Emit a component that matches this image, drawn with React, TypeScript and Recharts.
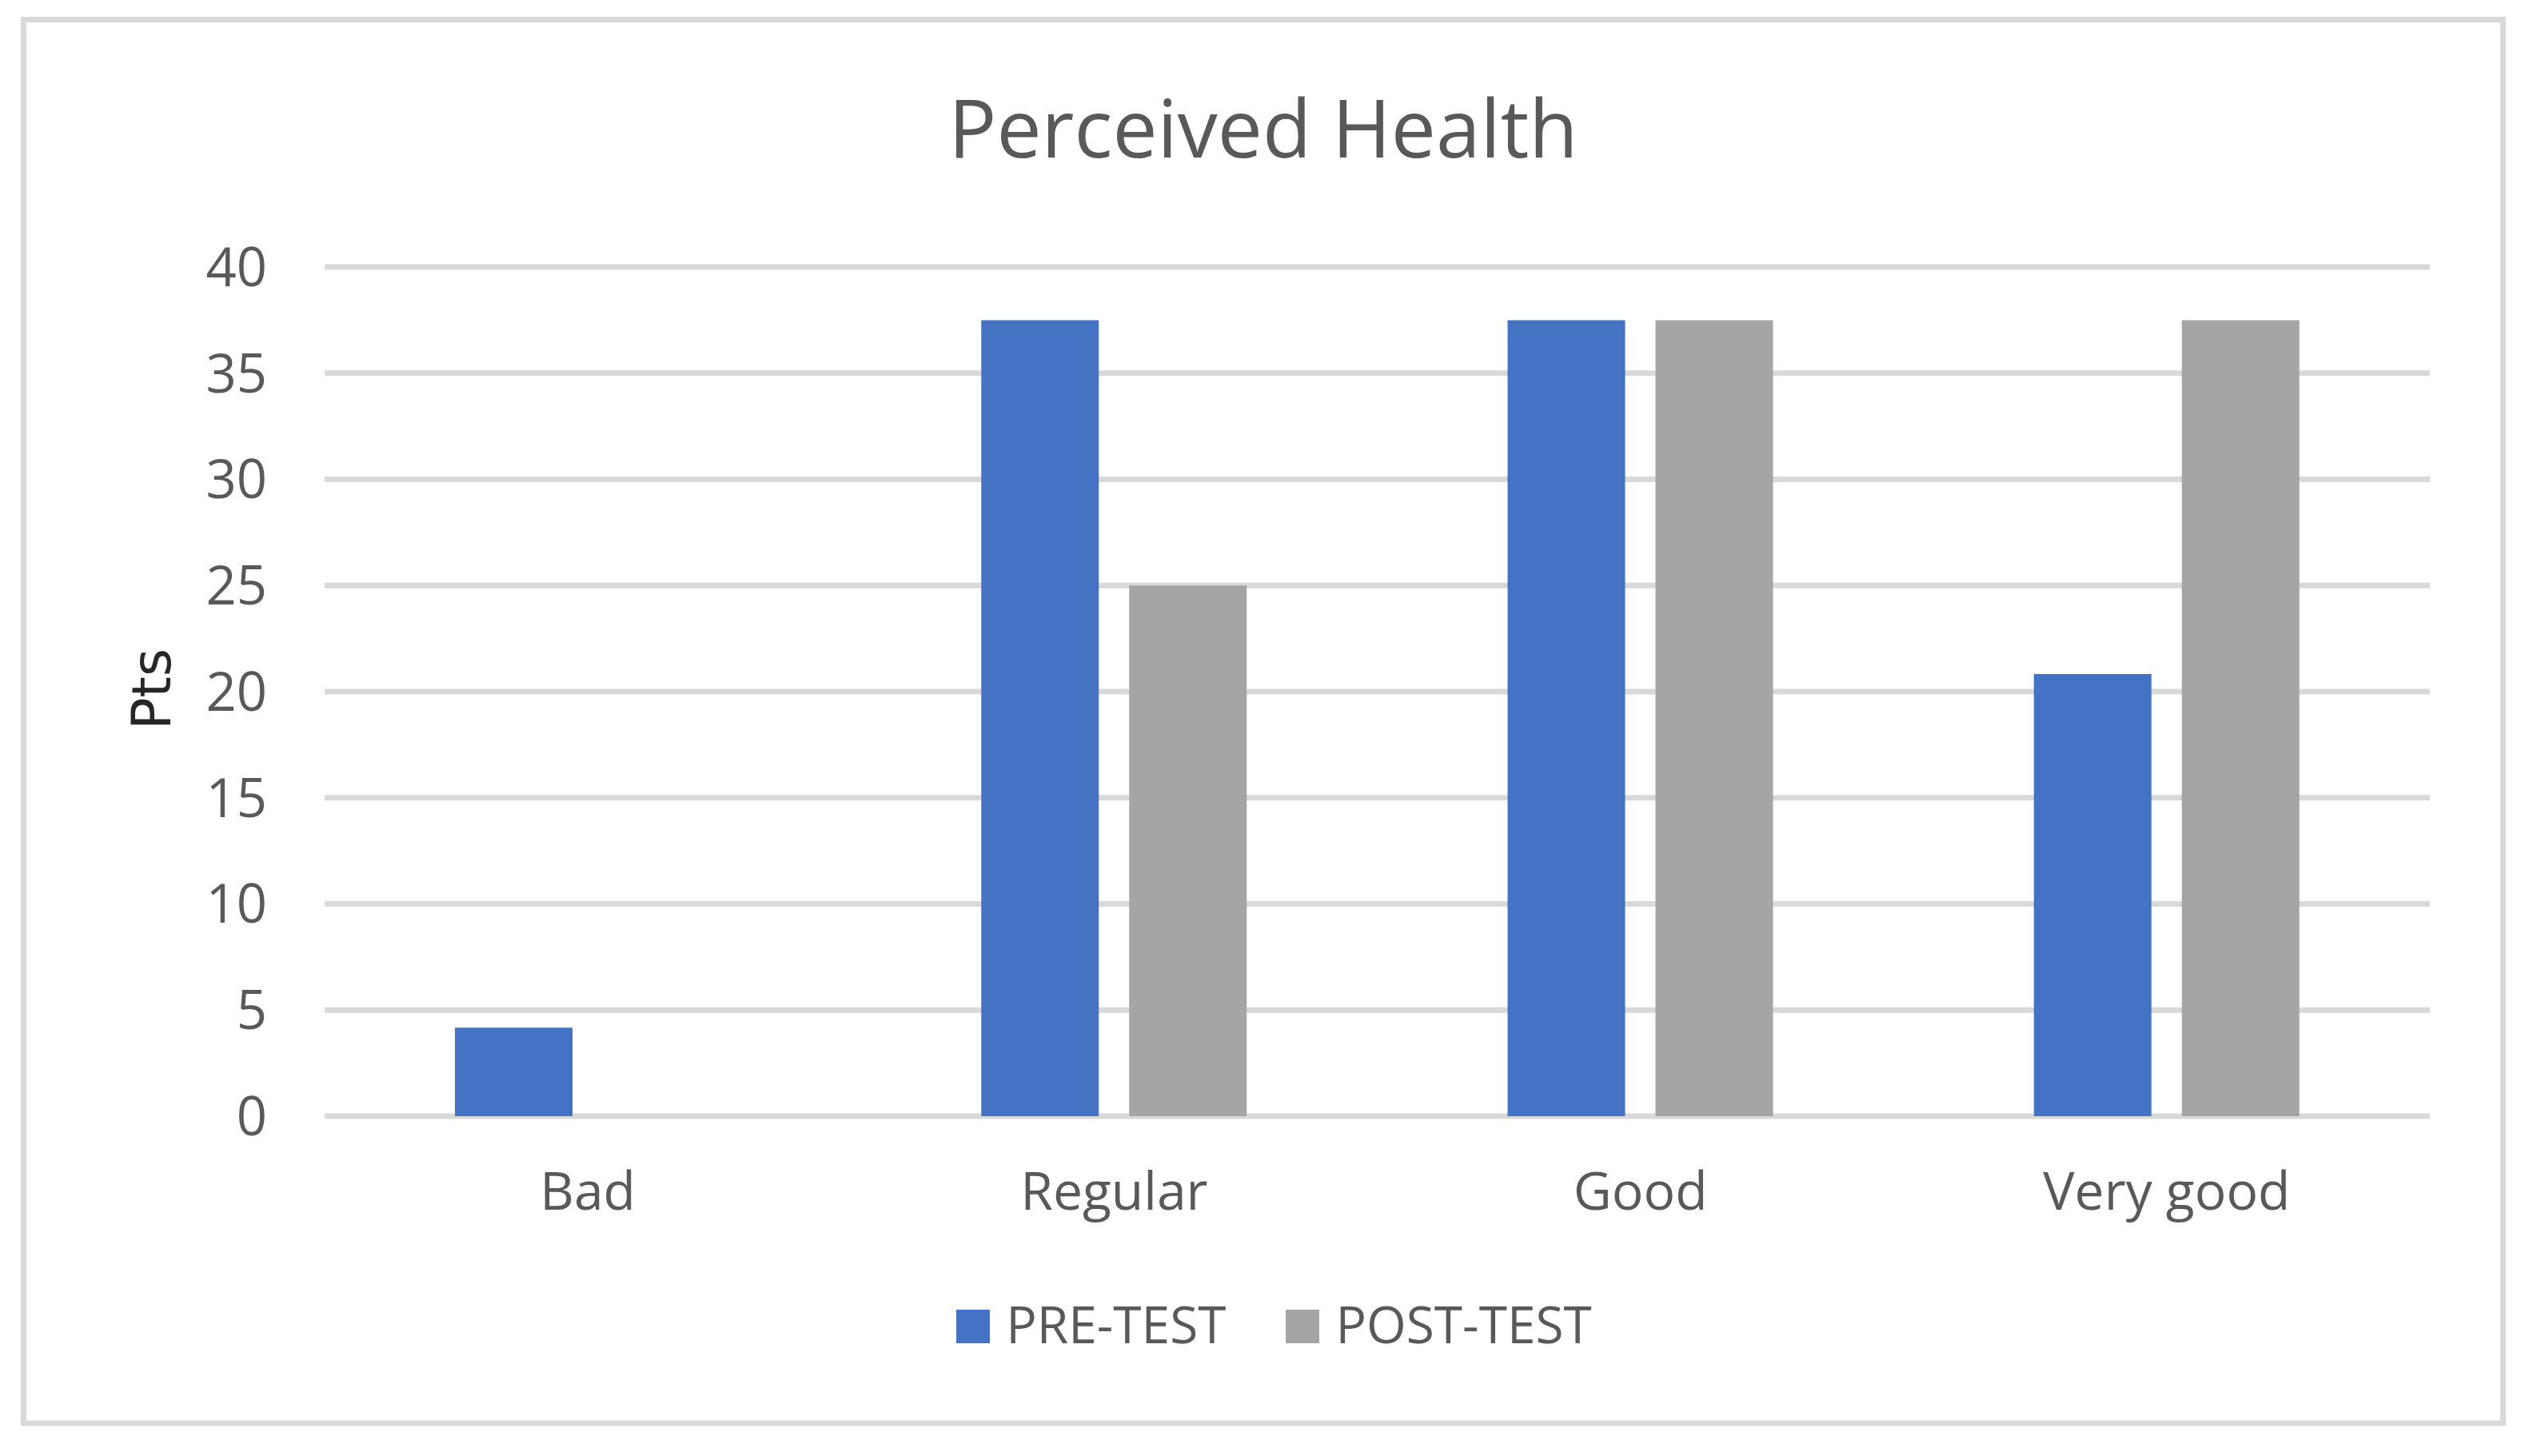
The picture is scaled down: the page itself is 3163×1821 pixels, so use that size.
import React from 'react';
import { BarChart, Bar, XAxis, YAxis, CartesianGrid, Legend } from 'recharts';

const categories = ['Bad', 'Regular', 'Good', 'Very good'];
const preTest = [4.17, 37.5, 37.5, 20.83];
const postTest = [0, 25, 37.5, 37.5];
const yTicks = [0, 5, 10, 15, 20, 25, 30, 35, 40];
const seriesNames = ['PRE-TEST', 'POST-TEST'];
const seriesColors = ['#4472C4', '#A5A5A5'];

const data = categories.map((c, i) => ({ name: c, pre: preTest[i], post: postTest[i] }));

const W = 3163;
const H = 1821;
const TEXT = '#595959';
const FONT = '"Open Sans", sans-serif';

const LegendContent = () => (
  <div
    style={{
      display: 'flex',
      justifyContent: 'center',
      alignItems: 'baseline',
      width: W,
      paddingLeft: 24,
      boxSizing: 'border-box',
      fontFamily: FONT,
      fontSize: 64,
      lineHeight: 1,
      color: TEXT,
    }}
  >
    {seriesNames.map((n, i) => (
      <div key={n} style={{ display: 'flex', alignItems: 'baseline', marginLeft: i === 0 ? 0 : 75 }}>
        <div style={{ width: 42, height: 42, background: seriesColors[i], marginRight: 20 }} />
        <span>{n}</span>
      </div>
    ))}
  </div>
);

export default function App() {
  return (
    <div style={{ position: 'absolute', left: 0, top: 0, width: W, height: H, background: '#fff' }}>
      <BarChart
        width={W}
        height={H}
        data={data}
        margin={{ top: 334, right: 124, bottom: 275, left: 206 }}
        barSize={147}
        barGap={38}
      >
        <CartesianGrid vertical={false} stroke="#D9D9D9" strokeWidth={7} />
        <XAxis
          dataKey="name"
          axisLine={false}
          tickLine={false}
          tickSize={0}
          tickMargin={70}
          height={150}
          tick={{ fill: TEXT, fontSize: 66, fontFamily: FONT }}
        />
        <YAxis
          domain={[0, 40]}
          ticks={yTicks}
          axisLine={false}
          tickLine={false}
          tickSize={0}
          tickMargin={72}
          width={200}
          tick={{ fill: TEXT, fontSize: 67, fontFamily: FONT }}
        />
        <Legend
          layout="horizontal"
          verticalAlign="middle"
          align="center"
          content={<LegendContent />}
          wrapperStyle={{ top: 1624, left: 0, width: W }}
        />
        <Bar dataKey="pre" name={seriesNames[0]} fill={seriesColors[0]} isAnimationActive={false} />
        <Bar dataKey="post" name={seriesNames[1]} fill={seriesColors[1]} isAnimationActive={false} />
      </BarChart>
      <svg
        width={W}
        height={H}
        style={{ position: 'absolute', left: 0, top: 0, pointerEvents: 'none' }}
      >
        <rect x={29.5} y={24.5} width={3101} height={1755.5} fill="none" stroke="#D9D9D9" strokeWidth={7} />
        <text x={1580} y={197} textAnchor="middle" fontFamily={FONT} fontSize={100} fill={TEXT}>
          Perceived Health
        </text>
        <text
          transform="translate(213, 862) rotate(-90)"
          textAnchor="middle"
          fontFamily='"DejaVu Sans", sans-serif'
          fontSize={67}
          fill="#262626"
        >
          Pts
        </text>
      </svg>
    </div>
  );
}
